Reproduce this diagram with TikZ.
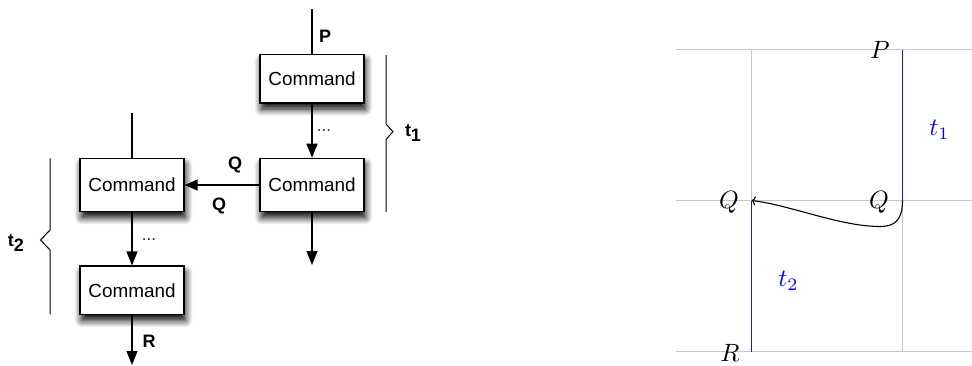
\RequirePackage{fix-cm}
\documentclass[tikz,border=0pt]{standalone}
\usepackage{fontspec}
\setmainfont{Liberation Sans}
\usepackage{graphicx}
\usetikzlibrary{arrows.meta,shadows.blur}

\newcommand{\bigmath}[1]{\scalebox{2.5}{$#1$}}

\begin{document}
\begin{tikzpicture}[x=1pt,y=-1pt,
  cmdbox/.style={draw,line width=1.4pt,fill=white,minimum width=104pt,inner sep=0pt,
    font=\fontsize{18.9}{22}\selectfont,
    blur shadow={shadow xshift=1.5pt,shadow yshift=-6pt,shadow blur radius=7pt,shadow opacity=100,shadow blur steps=10}},
  wire/.style={line width=1.2pt},
  arr/.style={wire,-{Triangle[length=14pt,width=11pt]}},
  lbl/.style={font=\fontsize{18}{20}\selectfont\bfseries,inner sep=0pt},
  dots/.style={font=\fontsize{17}{18}\selectfont,text=black!85,inner sep=0pt},
  brace/.style={line width=1pt},
  gridline/.style={line width=0.9pt,black!22},
  bluespan/.style={line width=1.3pt,draw={rgb,255:red,20;green,20;blue,255}},
  mlbl/.style={inner sep=0pt},
  mblue/.style={mlbl,text=blue}
]
\useasboundingbox (0,0) rectangle (972,365);

% ---------- flow of commands ----------
\node[cmdbox,minimum height=48.7pt] (c1) at (312,78.7) {Command};
\node[cmdbox,minimum height=53.3pt] (c2) at (312,185) {Command};
\node[cmdbox,minimum height=53.3pt] (c3) at (132,185) {Command};
\node[cmdbox,minimum height=48.3pt] (c4) at (132,290.3) {Command};

\coordinate (pin) at (312,9);
\coordinate (out1) at (312,265);
\coordinate (qin) at (132,112.7);
\coordinate (rout) at (132,365);

\draw[wire] (pin) -- (c1.north);
\draw[arr] (c1.south) -- (c2.north);
\draw[arr] (c2.south) -- (out1);
\draw[wire] (qin) -- (c3.north);
\draw[wire,-{Triangle[length=13pt,width=11pt]}] (c2.west) -- (c3.east);
\draw[arr] (c3.south) -- (c4.north);
\draw[arr] (c4.south) -- (rout);

\node[lbl] (lp) at (325,36.7) {P};
\node[lbl] (lq1) at (235,164.5) {Q};
\node[lbl] (lq2) at (219,205.5) {Q};
\node[lbl] (lr) at (149,341.5) {R};
\node[dots] (d1) at (324,131) {...};
\node[dots] (d2) at (149,240) {...};

% braces marking the two spans
\coordinate (b1a) at (386,55);
\coordinate (b1b) at (386,212);
\draw[brace] (b1a) -- (386,124) -- (393,131.7) -- (386,139.5) -- (b1b);
\node[lbl] (t1) at (413,133) {t\raisebox{-5pt}{1}};

\coordinate (b2a) at (50,158.3);
\coordinate (b2b) at (50,314.3);
\draw[brace] (b2a) -- (50,230) -- (40.5,240) -- (50,250) -- (b2b);
\node[lbl] (t2) at (16,243) {t\raisebox{-5pt}{2}};

% ---------- time diagram ----------
\coordinate (g1) at (751.5,49.5);
\coordinate (g2) at (902.5,49.5);
\coordinate (ql) at (751.5,200.5);
\coordinate (qr) at (902.5,200.5);
\coordinate (rl) at (751.5,351.5);
\coordinate (rr) at (902.5,351.5);

\draw[gridline] (676,49.5) -- (972,49.5);
\draw[gridline] (676,200.5) -- (972,200.5);
\draw[gridline] (676,351.5) -- (972,351.5);
\draw[gridline] (g1) -- (rl);
\draw[gridline] (g2) -- (rr);

\draw[line width=1.1pt,-{To[length=4pt,width=9pt]}] (qr) .. controls (902.5,220) and (895,226.5) .. (880,226.5)
  .. controls (840,226.5) and (790,205) .. (ql);

% the two time spans
\draw[bluespan] (g2) -- (qr) (rl) -- (ql);

\node[mlbl] (mp) at (880,50) {\bigmath{P}};
\node[mlbl] (mqr) at (879,202) {\bigmath{Q}};
\node[mlbl] (mql) at (729,202) {\bigmath{Q}};
\node[mlbl] (mr) at (730,352.5) {\bigmath{R}};
\node[mblue] (mt1) at (939.5,130) {\bigmath{t_1}};
\node[mblue] (mt2) at (788.5,281) {\bigmath{t_2}};
\end{tikzpicture}
\end{document}
